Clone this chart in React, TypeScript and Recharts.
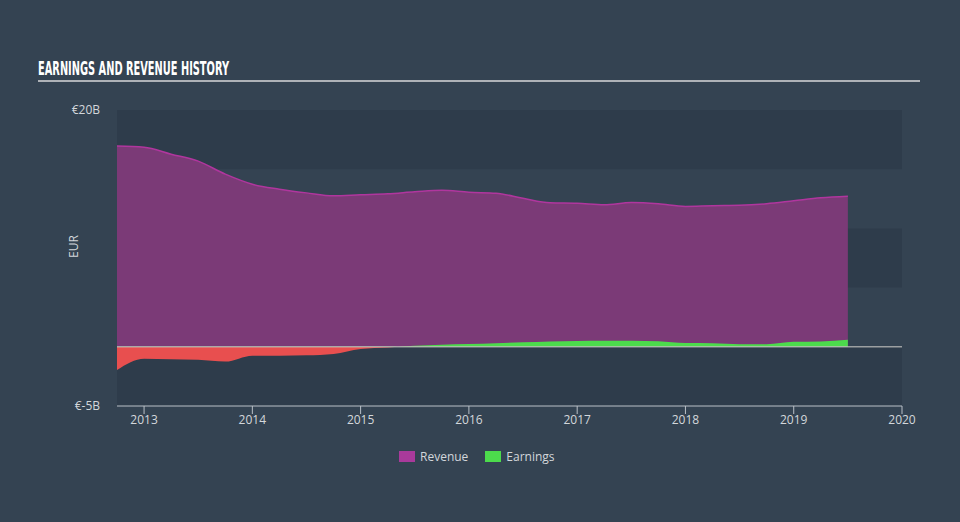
import React from "react";
import {
  AreaChart,
  Area,
  XAxis,
  YAxis,
  ReferenceArea,
  ReferenceLine,
} from "recharts";

// quarterly periods as decimal years
const periods = [
  2012.75, 2013.0, 2013.25, 2013.5, 2013.75, 2014.0, 2014.25, 2014.5, 2014.75,
  2015.0, 2015.25, 2015.5, 2015.75, 2016.0, 2016.25, 2016.5, 2016.75, 2017.0,
  2017.25, 2017.5, 2017.75, 2018.0, 2018.25, 2018.5, 2018.75, 2019.0, 2019.25,
  2019.5,
];

// EUR billions
const revenue = [
  16.95, 16.86, 16.27, 15.68, 14.58, 13.73, 13.31, 13.0, 12.75, 12.84, 12.92,
  13.09, 13.22, 13.05, 12.97, 12.54, 12.16, 12.12, 11.99, 12.18, 12.08, 11.86,
  11.92, 11.95, 12.08, 12.33, 12.58, 12.71,
];

const earnings = [
  -1.95, -1.0, -1.05, -1.1, -1.25, -0.75, -0.75, -0.72, -0.6, -0.18, -0.05,
  0.08, 0.17, 0.23, 0.3, 0.38, 0.45, 0.5, 0.52, 0.52, 0.47, 0.32, 0.3, 0.22,
  0.22, 0.42, 0.45, 0.6,
];

const xTicks = [2013, 2014, 2015, 2016, 2017, 2018, 2019, 2020];
const yTicks = [-5, 20];
const bands: [number, number][] = [
  [15, 20],
  [5, 10],
  [-5, 0],
];

const BG = "#344352";
const BAND = "#2e3c4b";
const AXIS = "#b9c0c7";
const TEXT = "#d3d7db";
const REV_FILL = "#7b3a77";
const REV_STROKE = "#b0369e";
const GREEN = "#4cdb4c";
const RED = "#e84f4f";

const data = periods.map((p, i) => ({
  period: p,
  revenue: revenue[i],
  earnings: earnings[i],
}));

const eMax = Math.max(...earnings);
const eMin = Math.min(...earnings);
const split = eMax / (eMax - eMin);

const font = "'Open Sans', 'DejaVu Sans', sans-serif";

export default function App() {
  return (
    <div
      style={{
        position: "absolute",
        left: 0,
        top: 0,
        width: 960,
        height: 522,
        background: BG,
        fontFamily: font,
        overflow: "hidden",
      }}
    >
      <svg
        width={960}
        height={40}
        style={{ position: "absolute", left: 0, top: 45, overflow: "visible" }}
      >
        <text
          x={38}
          y={30}
          fill="#ffffff"
          fontFamily="'DejaVu Sans Condensed', 'Liberation Sans Narrow', sans-serif"
          fontWeight={700}
          fontSize={20}
          textLength={191}
          lengthAdjust="spacingAndGlyphs"
        >
          EARNINGS AND REVENUE HISTORY
        </text>
      </svg>
      <div
        style={{
          position: "absolute",
          left: 38,
          top: 80,
          width: 882,
          height: 2,
          background: "#aeb2b7",
        }}
      />
      <div style={{ position: "absolute", left: 0, top: 0 }}>
        <AreaChart
          width={960}
          height={522}
          data={data}
          margin={{ top: 110, right: 58, bottom: 86, left: 57 }}
        >
          <defs>
            <linearGradient id="earnGrad" x1="0" y1="0" x2="0" y2="1">
              <stop offset={split} stopColor={GREEN} stopOpacity={1} />
              <stop offset={split} stopColor={RED} stopOpacity={1} />
            </linearGradient>
          </defs>
          {bands.map(([a, b]) => (
            <ReferenceArea
              key={a}
              y1={a}
              y2={b}
              fill={BAND}
              fillOpacity={1}
              stroke="none"
              ifOverflow="visible"
            />
          ))}
          <XAxis
            dataKey="period"
            type="number"
            domain={[2012.75, 2020]}
            ticks={xTicks}
            stroke={AXIS}
            tickSize={8}
            tickMargin={1}
            tick={{ fill: TEXT, fontSize: 12, fontFamily: font }}
            allowDataOverflow
          />
          <YAxis
            type="number"
            domain={[-5, 20]}
            ticks={yTicks}
            width={60}
            axisLine={false}
            tickLine={false}
            tickSize={8}
            tickMargin={9}
            tickFormatter={(v: number) => `€${v}B`}
            tick={{ fill: TEXT, fontSize: 12, fontFamily: font }}
            label={{
              value: "EUR",
              angle: -90,
              position: "insideLeft",
              offset: 17,
              fill: TEXT,
              fontSize: 12,
              fontFamily: font,
            }}
          />
          <Area
            type="monotone"
            dataKey="revenue"
            fill={REV_FILL}
            fillOpacity={1}
            stroke={REV_STROKE}
            strokeWidth={1.5}
            isAnimationActive={false}
          />
          <Area
            type="monotone"
            dataKey="earnings"
            fill="url(#earnGrad)"
            fillOpacity={1}
            stroke="none"
            isAnimationActive={false}
          />
          <ReferenceLine y={0} stroke="#c9c9c4" strokeOpacity={0.7} strokeWidth={1.5} />
        </AreaChart>
      </div>
      <div
        style={{
          position: "absolute",
          left: 399,
          top: 448,
          display: "flex",
          alignItems: "center",
          fontSize: 12,
          color: TEXT,
          whiteSpace: "nowrap",
        }}
      >
        <span style={{ width: 16, height: 11, background: "#a93a9b", display: "inline-block", marginRight: 5 }} />
        <span style={{ marginRight: 17 }}>Revenue</span>
        <span style={{ width: 16, height: 11, background: GREEN, display: "inline-block", marginRight: 5 }} />
        <span>Earnings</span>
      </div>
    </div>
  );
}
